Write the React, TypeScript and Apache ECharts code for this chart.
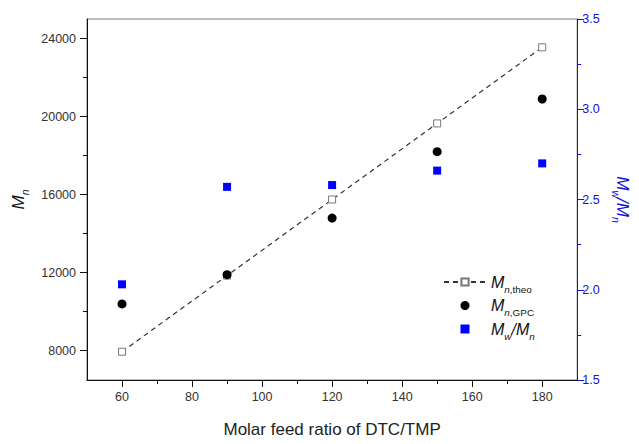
import React, { useEffect, useRef } from "react";
import * as echarts from "echarts";

const ratios = [60, 90, 120, 150, 180];
const mnTheo = [7950, 11850, 15750, 19650, 23550];
const mnGpc = [10400, 11900, 14800, 18200, 20900];
const pdi = [2.03, 2.57, 2.58, 2.66, 2.7];

const xLabelValues = [60, 80, 100, 120, 140, 160, 180];
const xMinorValues = [70, 90, 110, 130, 150, 170];
const yLabelValues = [8000, 12000, 16000, 20000, 24000];
const yMinorValues = [10000, 14000, 18000, 22000];

const FONT = "Liberation Sans, Arial, sans-serif";
const BLUE = "#1010e0";

const subRich = (color: string, size: number) => ({
  m: { fontFamily: FONT, fontStyle: "italic", fontSize: size, lineHeight: 24, verticalAlign: "middle", color },
  mi: { fontFamily: FONT, fontStyle: "italic", fontSize: size * 0.62, lineHeight: 13, verticalAlign: "bottom", color },
  s: { fontFamily: FONT, fontSize: size * 0.62, lineHeight: 13, verticalAlign: "bottom", color },
});

export default function App() {
  const ref = useRef<HTMLDivElement>(null);
  useEffect(() => {
    const chart = echarts.init(ref.current!, null, { renderer: "svg" });
    const grid = { left: 87, right: 53, top: 19, bottom: 64 };
    chart.setOption({
      animation: false,
      backgroundColor: "#fff",
      grid: { ...grid, show: true, borderColor: "#777", borderWidth: 1 },
      legend: {
        orient: "vertical",
        left: 443,
        top: 274,
        padding: 0,
        itemWidth: 42,
        itemHeight: 9,
        itemGap: 3.5,
        symbolKeepAspect: true,
        data: [
          { name: "theo" },
          { name: "gpc" },
          { name: "pdi", icon: "path://M0,0L1,0L1,1L0,1Z" },
        ],
        formatter: (name: string) => {
          if (name === "theo") return "{m|M}{mi|n}{s|,theo}";
          if (name === "gpc") return "{m|M}{mi|n}{s|,GPC}";
          return "{m|M}{mi|w}{m|/M}{mi|n}";
        },
        textStyle: { rich: subRich("#111", 16) },
      },
      xAxis: [
        {
          type: "value",
          min: 50,
          max: 190,
          position: "bottom",
          axisLine: { lineStyle: { color: "#111", width: 1 } },
          axisTick: { customValues: xLabelValues, length: 7, lineStyle: { color: "#111" } },
          axisLabel: { customValues: xLabelValues, fontFamily: FONT, fontSize: 12.5, color: "#333", margin: 10 },
          splitLine: { show: false },
          name: "Molar feed ratio of DTC/TMP",
          nameLocation: "middle",
          nameGap: 41,
          nameTextStyle: { fontFamily: FONT, fontSize: 17, color: "#222" },
        },
        {
          type: "value",
          min: 50,
          max: 190,
          position: "bottom",
          axisLine: { show: false },
          axisTick: { customValues: xMinorValues, length: 4, lineStyle: { color: "#111" } },
          axisLabel: { show: false },
          splitLine: { show: false },
        },
      ],
      yAxis: [
        {
          type: "value",
          min: 6500,
          max: 25000,
          position: "left",
          axisLine: { show: true, lineStyle: { color: "#111" } },
          axisTick: { show: true, customValues: yLabelValues, length: 7, lineStyle: { color: "#111" } },
          axisLabel: {
            customValues: yLabelValues,
            fontFamily: FONT,
            fontSize: 12.5,
            color: "#333",
            margin: 11,
            formatter: (v: number) => String(v),
          },
          splitLine: { show: false },
          name: "{m|M}{mi|n}",
          nameLocation: "middle",
          nameRotate: 90,
          nameGap: 55,
          nameTextStyle: { rich: subRich("#111", 17) },
        },
        {
          type: "value",
          min: 1.5,
          max: 3.5,
          interval: 0.5,
          position: "right",
          axisLine: { show: true, lineStyle: { color: BLUE } },
          axisTick: { show: true, length: 7, lineStyle: { color: BLUE } },
          minorTick: { show: true, splitNumber: 2, length: 4, lineStyle: { color: BLUE } },
          axisLabel: {
            fontFamily: FONT,
            fontSize: 12.5,
            color: BLUE,
            margin: 5,
            formatter: (v: number) => v.toFixed(1),
          },
          splitLine: { show: false },
          name: "{m|M}{mi|w}{m|/M}{mi|n}",
          nameLocation: "middle",
          nameRotate: -90,
          nameGap: 28,
          nameTextStyle: { rich: subRich(BLUE, 17) },
        },
        {
          type: "value",
          min: 6500,
          max: 25000,
          position: "left",
          axisLine: { show: false },
          axisTick: { show: true, customValues: yMinorValues, length: 4, lineStyle: { color: "#111" } },
          axisLabel: { show: false },
          splitLine: { show: false },
        },
      ],
      series: [
        {
          name: "theo",
          type: "line",
          yAxisIndex: 0,
          data: ratios.map((x, i) => [x, mnTheo[i]]),
          symbol: "rect",
          symbolSize: 7,
          itemStyle: { color: "#fff", borderColor: "#777", borderWidth: 1 },
          lineStyle: { color: "#333", width: 1.2, type: [5, 4] },
          z: 2,
        },
        {
          name: "gpc",
          type: "scatter",
          yAxisIndex: 0,
          data: ratios.map((x, i) => [x, mnGpc[i]]),
          symbol: "circle",
          symbolSize: 9,
          itemStyle: { color: "#000", opacity: 1 },
          z: 3,
        },
        {
          name: "pdi",
          type: "scatter",
          yAxisIndex: 1,
          data: ratios.map((x, i) => [x, pdi[i]]),
          symbol: "rect",
          symbolSize: 8,
          symbolKeepAspect: true,
          itemStyle: { color: "#0000ff", opacity: 1 },
          z: 3,
        },
      ],
    });
    return () => chart.dispose();
  }, []);
  return <div ref={ref} style={{ position: "absolute", left: 0, top: 0, width: 639, height: 444 }} />;
}
